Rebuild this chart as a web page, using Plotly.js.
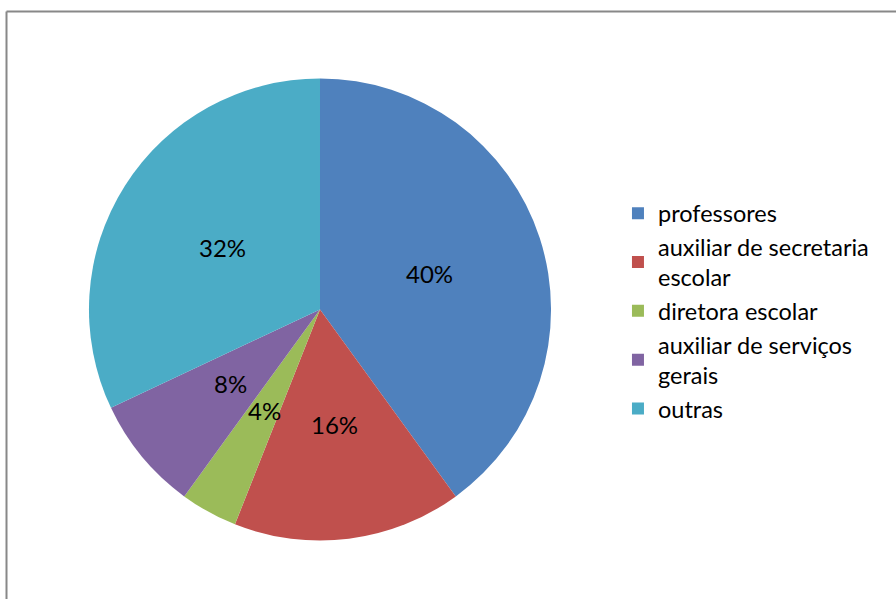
<!DOCTYPE html>
<html>
<head>
<meta charset="utf-8">
<script src="https://cdn.plot.ly/plotly-3.0.1.min.js"></script>
<style>html,body{margin:0;padding:0;background:#fff;}#chart{width:896px;height:599px;}</style>
</head>
<body>
<div id="chart"></div>
<script>
var categories = ["professores", "auxiliar de secretaria<br>escolar", "diretora escolar", "auxiliar de serviços<br>gerais", "outras"];
var values = [40, 16, 4, 8, 32];
var colors = ["#4F81BD", "#C0504D", "#9BBB59", "#8064A2", "#4BACC6"];

var W = 896, H = 599;
var dom = {x: [0.0993, 0.615], y: [0.0968, 0.8698]};
var FONT = "Lato, 'Open Sans', sans-serif";

var trace = {
  type: "pie",
  labels: categories,
  values: values,
  sort: false,
  direction: "clockwise",
  rotation: 0,
  marker: {colors: colors, line: {width: 0}},
  textinfo: "none",
  domain: dom,
  hoverinfo: "none"
};

// percentage labels placed at half radius on each slice's mid-angle
var total = values.reduce(function (a, b) { return a + b; }, 0);
var cxPx = (dom.x[0] + dom.x[1]) / 2 * W;
var cyPx = (dom.y[0] + dom.y[1]) / 2 * H;
var rPx = Math.min((dom.x[1] - dom.x[0]) * W, (dom.y[1] - dom.y[0]) * H) / 2;
var annotations = [];
var cum = 0;
values.forEach(function (v) {
  var mid = (cum + v / 2) / total * 2 * Math.PI;
  cum += v;
  var rr = 0.5 * rPx;
  annotations.push({
    xref: "paper", yref: "paper",
    x: (cxPx + rr * Math.sin(mid)) / W,
    y: (cyPx + rr * Math.cos(mid)) / H,
    text: Math.round(v / total * 100) + "%",
    showarrow: false,
    xanchor: "center", yanchor: "middle",
    font: {family: FONT, size: 24, color: "#000"}
  });
});

var layout = {
  width: W, height: H,
  margin: {l: 0, r: 0, t: 0, b: 0},
  paper_bgcolor: "#fff",
  showlegend: true,
  legend: {
    x: 0.6897, y: 0.6805, xanchor: "left", yanchor: "top",
    font: {family: FONT, size: 23.5, color: "#000"},
    itemwidth: 30, tracegroupgap: 0, valign: "middle"
  },
  annotations: annotations,
  shapes: [
    {type: "line", xref: "paper", yref: "paper", x0: 6.5/W, x1: 1.01, y0: 1 - 11.5/H, y1: 1 - 11.5/H, line: {color: "#888", width: 2}},
    {type: "line", xref: "paper", yref: "paper", x0: 6.5/W, x1: 6.5/W, y0: 1 - 11.5/H, y1: -0.01, line: {color: "#888", width: 2}}
  ]
};

Plotly.newPlot("chart", [trace], layout, {displayModeBar: false, staticPlot: true});
</script>
</body>
</html>
